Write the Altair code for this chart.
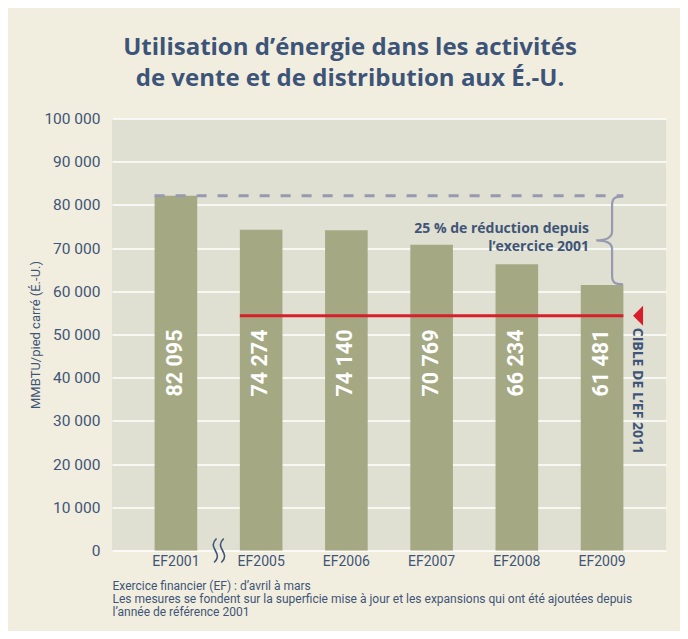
import altair as alt
import pandas as pd

# ---------------- data ----------------
categories = ["EF2001", "EF2005", "EF2006", "EF2007", "EF2008", "EF2009"]
values = [82095, 74274, 74140, 70769, 66234, 61481]
y_ticks = [0, 10000, 20000, 30000, 40000, 50000, 60000, 70000, 80000, 90000, 100000]
baseline_value = 82095          # FY2001 reference level (dashed line)
target_value = 54350            # FY2011 target (red line)
label_anchor_value = 43400      # where the value labels sit inside bars

title_lines = ["Utilisation d’énergie dans les activités",
               "de vente et de distribution aux É.-U."]
y_title = "MMBTU/pied carré (É.-U.)"
footnote_lines = ["Exercice financier (EF) : d’avril à mars",
                  "Les mesures se fondent sur la superficie mise à jour et les expansions qui ont été ajoutées depuis",
                  "l’année de référence 2001"]
annotation_lines = ["25 % de réduction depuis", "l’exercice 2001"]
target_label = "CIBLE DE L’EF 2011"

# ---------------- styles ----------------
FONT = "Roboto"
BOLD_FONT = "Open Sans"
BLUE = "#3F5577"
CREAM = "#F2EEDF"
PLOT_BG = "#DFDFD2"
BAR = "#A4A983"
DASH = "#9799B0"
RED = "#D81E2A"

df = pd.DataFrame({"cat": categories, "val": values})
df["label"] = [f"{v:,}".replace(",", " ") for v in values]

x_scale = alt.Scale(domain=categories, paddingInner=0.5, paddingOuter=0.5)
y_scale = alt.Scale(domain=[0, 100000], nice=False)

x_axis = alt.Axis(
    title=footnote_lines, labelFont=FONT, labelFontSize=14, labelColor=BLUE,
    labelPadding=4, labelAngle=0, ticks=False, domain=False, grid=False,
    titleAnchor="start", titleAlign="left", titleFont=FONT, titleFontSize=12,
    titleFontWeight="normal", titleColor=BLUE, titlePadding=12, titleLineHeight=13,
)
y_axis = alt.Axis(
    title=y_title, values=y_ticks,
    labelExpr="replace(format(datum.value, ','), ',', ' ')",
    labelFont=FONT, labelFontSize=15.5, labelColor=BLUE, labelPadding=12,
    ticks=False, domain=False, grid=True, gridColor="white", gridWidth=1.5,
    titleFont=FONT, titleFontSize=13, titleFontWeight="normal", titleColor=BLUE,
    titlePadding=1,
)

X = alt.X("cat:N", scale=x_scale, axis=x_axis)
Y = alt.Y("val:Q", scale=y_scale, axis=y_axis)

bars = alt.Chart(df).mark_bar(color=BAR).encode(x=X, y=Y)

bar_labels = alt.Chart(df).mark_text(
    angle=270, font=FONT, fontSize=21.5, fontWeight="bold", color="white",
    align="center", baseline="middle",
).encode(x="cat:N", y=alt.datum(label_anchor_value), text="label:N")

# dashed reference line at FY2001 level
ref_df = pd.DataFrame({"cat": [categories[0]], "cat_end": [categories[-1]], "val": [baseline_value]})
ref_line = alt.Chart(ref_df).mark_rule(color=DASH, strokeWidth=3, strokeDash=[10, 11]).encode(
    x=alt.X("cat:N", bandPosition=0), x2=alt.X2("cat_end", bandPosition=1), y="val:Q"
)

# red target line
tgt_df = pd.DataFrame({"cat": [categories[1]], "cat_end": [categories[-1]], "val": [target_value]})
tgt_line = alt.Chart(tgt_df).mark_rule(color=RED, strokeWidth=3).encode(
    x=alt.X("cat:N", bandPosition=0), x2=alt.X2("cat_end", bandPosition=1), y="val:Q"
)

last_df = pd.DataFrame({"cat": [categories[-1]], "val": [target_value]})
triangle = alt.Chart(last_df).mark_point(
    shape="M 0.5 -1 L -0.5 0 L 0.5 1 Z", size=400, filled=True, color=RED,
    opacity=1, xOffset=36,
).encode(x="cat:N", y="val:Q")

target_text = alt.Chart(last_df).mark_text(
    text=target_label, angle=90, align="left", baseline="middle", font=BOLD_FONT,
    fontSize=14, fontWeight="bold", color=BLUE, xOffset=35, yOffset=12,
).encode(x="cat:N", y="val:Q")

# brace between FY2001 level and FY2009 value
brace_df = pd.DataFrame({"cat": [categories[-1]], "val": [(baseline_value + values[-1]) / 2]})
brace_path = ("M 0.25 -1 C 0.05 -1 0 -0.95 0 -0.8 L 0 -0.2 C 0 -0.07 -0.12 0 -0.36 0 "
              "C -0.12 0 0 0.07 0 0.2 L 0 0.8 C 0 0.95 0.05 1 0.25 1")
brace = alt.Chart(brace_df).mark_point(
    shape=brace_path, size=7744, filled=False, stroke=DASH, strokeWidth=2.2,
    opacity=1, xOffset=10,
).encode(x="cat:N", y="val:Q")

annotation = alt.Chart(brace_df).mark_text(
    text=annotation_lines, align="right", baseline="middle", lineHeight=17.5,
    font=BOLD_FONT, fontSize=14, fontWeight="bold", color=BLUE, xOffset=-13, yOffset=-11,
).encode(x="cat:N", y="val:Q")

# axis break symbol between FY2001 and FY2005
break_df = pd.DataFrame({"cat": [categories[0]], "val": [0]})
break_path = ("M -0.2 -1 C -0.6 -0.6 -0.5 -0.35 -0.3 0 C -0.1 0.35 0 0.6 -0.4 1 "
              "M 0.4 -1 C 0 -0.6 0.1 -0.35 0.3 0 C 0.5 0.35 0.6 0.6 0.2 1")
break_mark = alt.Chart(break_df).mark_point(
    shape=break_path, size=576, filled=False, stroke=BLUE, strokeWidth=1.6,
    opacity=1, xOffset=43,
).encode(x="cat:N", y="val:Q")

chart = alt.layer(
    bars, ref_line, tgt_line, bar_labels, brace, annotation, triangle, target_text, break_mark
).properties(
    width=554, height=432,
    title=alt.TitleParams(
        text=title_lines, font=BOLD_FONT, fontSize=24, fontWeight="bold", color="#3D5479",
        anchor="middle", frame="group", dx=-39, offset=21, lineHeight=30.5,
    ),
    background=CREAM,
    padding={"left": 104, "top": 110.5, "right": 14, "bottom": 80.5},
    autosize=alt.AutoSizeParams(type="none"),
).configure_view(fill=PLOT_BG, stroke=None)

chart.save("out.html", embed_options={"renderer": "svg", "actions": False})
